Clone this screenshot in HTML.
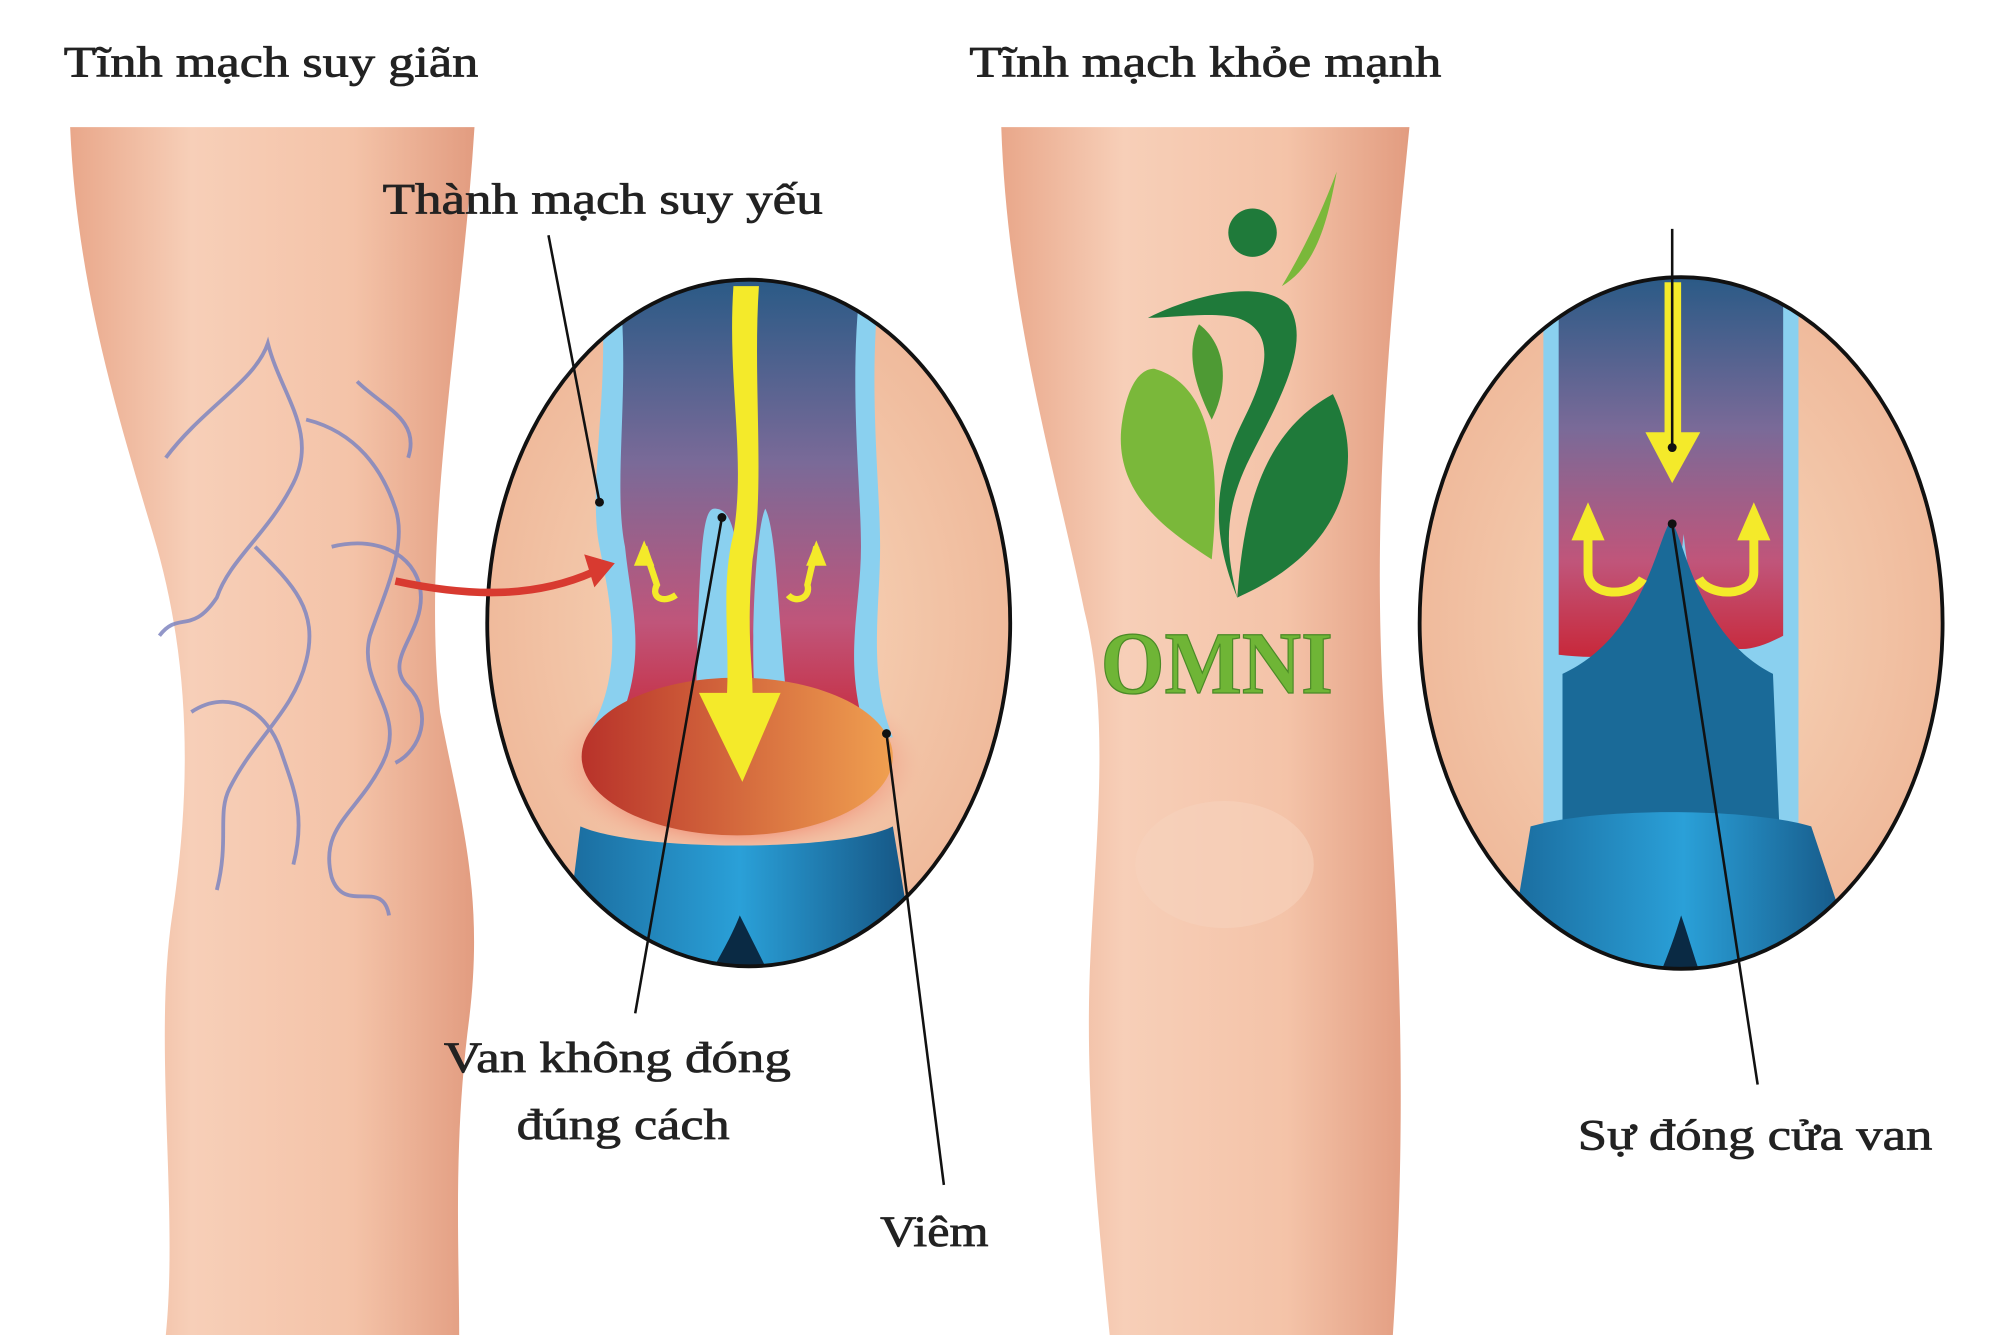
<!DOCTYPE html>
<html><head><meta charset="utf-8"><style>
html,body{margin:0;padding:0;background:#fff;width:2000px;height:1335px;overflow:hidden}
svg{display:block}
text{font-family:"Liberation Serif",serif;fill:#222;stroke:#222;stroke-width:0.6}
</style></head><body>
<svg width="2000" height="1335" viewBox="0 0 1568 1050" preserveAspectRatio="none">
<defs>
<linearGradient id="skin" x1="0" x2="1" y1="0" y2="0">
<stop offset="0" stop-color="#e9a78a"/><stop offset="0.3" stop-color="#f7cfb8"/><stop offset="0.7" stop-color="#f4c3a8"/><stop offset="1" stop-color="#e29c80"/></linearGradient>
<radialGradient id="circ" cx="0.5" cy="0.5" r="0.6"><stop offset="0" stop-color="#f8d9bd"/><stop offset="1" stop-color="#eeb495"/></radialGradient>
<linearGradient id="vein" x1="0" x2="0" y1="0" y2="1"><stop offset="0" stop-color="#2a5a86"/><stop offset="0.4" stop-color="#7a6a98"/><stop offset="0.75" stop-color="#c0557a"/><stop offset="1" stop-color="#c8283a"/></linearGradient>
<radialGradient id="infl" cx="0.5" cy="0.5" r="0.5"><stop offset="0.5" stop-color="#e8402a"/><stop offset="1" stop-color="#f5b09a" stop-opacity="0"/></radialGradient>
<linearGradient id="bulb" x1="0" x2="1"><stop offset="0" stop-color="#b8322a"/><stop offset="1" stop-color="#f0a050"/></linearGradient>
<linearGradient id="blue" x1="0" x2="1"><stop offset="0" stop-color="#1a6a9c"/><stop offset="0.5" stop-color="#2aa0d8"/><stop offset="1" stop-color="#14507e"/></linearGradient>
<clipPath id="c1"><ellipse cx="587" cy="490" rx="205" ry="270"/></clipPath>
<clipPath id="c2"><ellipse cx="1318" cy="490" rx="205" ry="272"/></clipPath>
</defs>
<text x="50" y="60" font-size="34" textLength="325" lengthAdjust="spacingAndGlyphs">Tĩnh mạch suy giãn</text>
<text x="760" y="60" font-size="34" textLength="370" lengthAdjust="spacingAndGlyphs">Tĩnh mạch khỏe mạnh</text>
<!-- left leg -->
<path d="M55,100 L372,100 C362,260 330,420 345,560 C360,640 380,700 368,800 C355,900 360,980 360,1050 L130,1050 C140,950 120,820 135,720 C150,620 150,520 120,420 C90,320 60,220 55,100Z" fill="url(#skin)"/>
<g fill="none" stroke="#7f86c0" stroke-width="3" opacity="0.85">
<path d="M130,360 C160,320 200,300 210,270 C220,310 250,340 230,380 C210,420 180,440 170,470 C150,500 140,480 125,500"/>
<path d="M240,330 C280,340 300,370 310,400 C320,430 300,470 290,500 C280,540 320,560 300,600 C280,640 250,650 260,690 C270,720 300,690 305,720"/>
<path d="M200,430 C230,460 250,480 240,520 C230,560 200,580 180,620 C170,640 180,660 170,700"/>
<path d="M260,430 C300,420 330,440 330,470 C330,500 300,520 320,540 C340,560 330,590 310,600"/>
<path d="M150,560 C180,540 210,560 220,590 C230,620 240,640 230,680"/>
<path d="M280,300 C300,320 330,330 320,360"/>
</g>
<!-- right leg -->
<path d="M785,100 L1105,100 C1090,250 1075,400 1085,560 C1095,700 1105,850 1092,1050 L870,1050 C860,950 850,850 855,750 C860,650 870,560 850,480 C830,380 790,250 785,100Z" fill="url(#skin)"/>
<ellipse cx="960" cy="680" rx="70" ry="50" fill="#f7d2bc" opacity="0.6"/>
<!-- left circle -->
<ellipse cx="587" cy="490" rx="205" ry="270" fill="url(#circ)"/>
<g clip-path="url(#c1)">
<ellipse cx="578" cy="600" rx="145" ry="75" fill="url(#infl)"/>
<path d="M470,220 C480,300 460,380 470,430 C480,480 490,530 460,580 L700,580 C680,530 690,480 690,430 C690,380 680,300 690,220Z" fill="#8ad0ef"/>
<path d="M485,220 C495,300 480,380 490,430 C495,480 510,520 480,580 L680,580 C660,520 675,480 675,430 C675,380 665,300 675,220Z" fill="url(#vein)"/>
<path d="M560,400 C575,400 585,420 580,580 L545,580 C548,440 550,400 560,400Z M600,400 C590,420 585,580 600,580 L620,580 C610,500 610,420 600,400Z" fill="#8ad0ef"/>
<ellipse cx="578" cy="595" rx="122" ry="62" fill="url(#bulb)"/>
<path d="M455,650 C500,670 660,670 700,650 L720,770 L440,770Z" fill="url(#blue)"/>
<path d="M580,720 C590,740 600,760 605,770 L555,770 C565,750 572,740 580,720Z" fill="#0a2a44"/>
<path d="M575,225 L595,225 C590,300 600,380 590,440 C585,500 590,520 590,545 L612,545 L582,615 L548,545 L570,545 C572,500 565,460 575,420 C585,360 570,300 575,225Z" fill="#f4ea2a"/>
<path d="M505,430 L515,460 C510,470 520,475 530,468" stroke="#f4ea2a" stroke-width="5" fill="none"/>
<path d="M497,445 L505,425 L513,445Z" fill="#f4ea2a"/>
<path d="M640,430 L633,460 C636,470 624,475 618,468" stroke="#f4ea2a" stroke-width="5" fill="none"/>
<path d="M632,445 L640,425 L648,445Z" fill="#f4ea2a"/>
</g>
<ellipse cx="587" cy="490" rx="205" ry="270" fill="none" stroke="#111" stroke-width="3"/>
<path d="M310,457 C370,470 420,470 465,450" stroke="#d83a30" stroke-width="6" fill="none"/>
<path d="M482,443 L458,436 L466,462Z" fill="#d83a30"/>
<!-- right circle -->
<ellipse cx="1318" cy="490" rx="205" ry="272" fill="url(#circ)"/>
<g clip-path="url(#c2)">
<rect x="1210" y="218" width="200" height="470" fill="#8ad0ef"/>
<path d="M1222,218 L1398,218 L1398,500 C1360,520 1330,520 1320,420 C1310,520 1270,520 1222,515Z" fill="url(#vein)"/>
<path d="M1310,410 C1320,420 1330,500 1390,530 L1395,650 L1225,650 L1225,530 C1290,500 1300,420 1310,410Z" fill="#1a6a98"/>
<path d="M1200,650 C1250,635 1370,635 1420,650 L1460,770 L1180,770Z" fill="url(#blue)"/>
<path d="M1318,720 C1325,740 1330,760 1335,770 L1300,770 C1308,750 1312,740 1318,720Z" fill="#0a2a44"/>
<path d="M1305,222 L1318,222 L1318,340 L1333,340 L1311,380 L1290,340 L1305,340Z" fill="#f4ea2a"/>
<path d="M1245,420 L1245,450 C1245,470 1280,470 1288,455" stroke="#f4ea2a" stroke-width="7" fill="none"/>
<path d="M1232,425 L1245,395 L1258,425Z" fill="#f4ea2a"/>
<path d="M1375,420 L1375,450 C1375,470 1340,470 1332,455" stroke="#f4ea2a" stroke-width="7" fill="none"/>
<path d="M1362,425 L1375,395 L1388,425Z" fill="#f4ea2a"/>
</g>
<ellipse cx="1318" cy="490" rx="205" ry="272" fill="none" stroke="#111" stroke-width="3"/>
<!-- logo -->
<circle cx="982" cy="183" r="19" fill="#1f7a3a"/>
<path d="M1048,135 C1040,180 1030,210 1005,225 C1020,200 1035,170 1048,135Z" fill="#7ab83a"/>
<path d="M900,250 C940,230 990,220 1010,240 C1030,270 1000,320 980,360 C960,400 960,430 970,470 C950,420 950,380 975,330 C995,290 1000,260 970,250 C950,245 920,250 900,250Z" fill="#1f7a3a"/>
<path d="M905,290 C940,300 960,340 950,440 C920,420 870,390 880,330 C885,300 895,290 905,290Z" fill="#7ab83a"/>
<path d="M1045,310 C1070,360 1060,430 970,470 C975,400 990,340 1045,310Z" fill="#1f7a3a"/>
<path d="M940,255 C960,270 965,300 950,330 C935,300 930,275 940,255Z" fill="#4e9a34"/>
<text x="863" y="545" font-family="Liberation Sans,sans-serif" font-weight="bold" font-size="70" textLength="182" lengthAdjust="spacingAndGlyphs" style="fill:#6fb536;stroke:#4a8a26;stroke-width:1">OMNI</text>
<!-- labels & leaders -->
<text x="300" y="168" font-size="34" textLength="345" lengthAdjust="spacingAndGlyphs">Thành mạch suy yếu</text>
<path d="M430,185 L470,395" stroke="#111" stroke-width="2"/><circle cx="470" cy="395" r="3.5" fill="#111"/>
<text x="348" y="843" font-size="34" textLength="272" lengthAdjust="spacingAndGlyphs">Van không đóng</text>
<text x="405" y="896" font-size="34" textLength="167" lengthAdjust="spacingAndGlyphs">đúng cách</text>
<path d="M498,797 L566,407" stroke="#111" stroke-width="2"/><circle cx="566" cy="407" r="3.5" fill="#111"/>
<text x="690" y="980" font-size="34" textLength="85" lengthAdjust="spacingAndGlyphs">Viêm</text>
<path d="M740,932 L695,577" stroke="#111" stroke-width="2"/><circle cx="695" cy="577" r="3.5" fill="#111"/>
<text x="1237" y="904" font-size="34" textLength="278" lengthAdjust="spacingAndGlyphs">Sự đóng cửa van</text>
<path d="M1378,853 L1311,412" stroke="#111" stroke-width="2"/><circle cx="1311" cy="412" r="3.5" fill="#111"/>
<path d="M1311,180 L1311,352" stroke="#111" stroke-width="2"/><circle cx="1311" cy="352" r="3.5" fill="#111"/>
</svg>
</body></html>
